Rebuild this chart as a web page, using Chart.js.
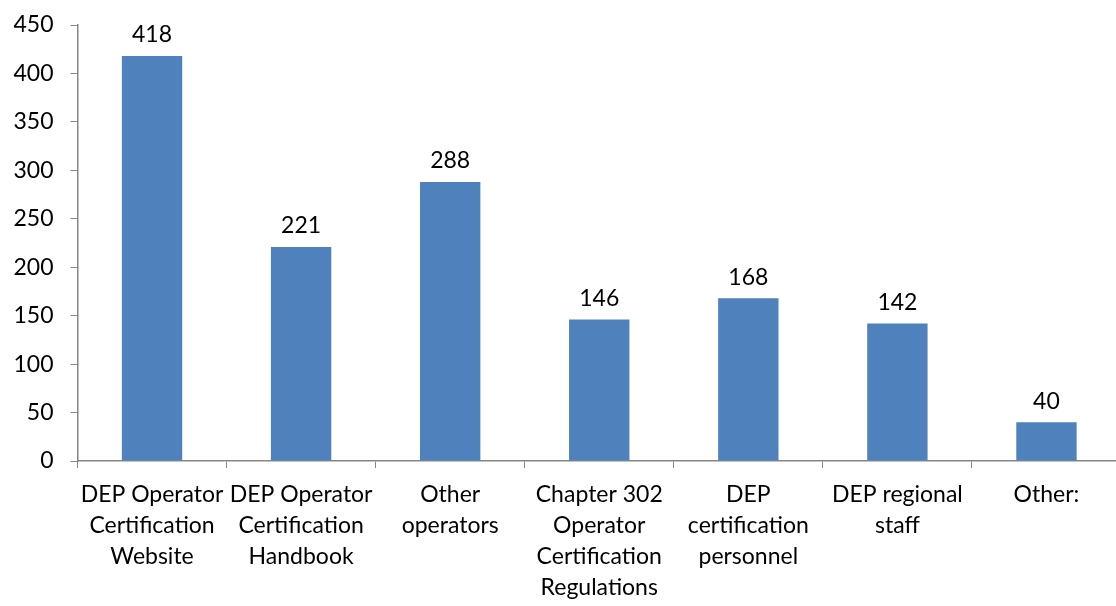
<!DOCTYPE html>
<html><head><meta charset="utf-8">
<script src="https://cdn.jsdelivr.net/npm/chart.js@4/dist/chart.umd.min.js"></script>
<style>html,body{margin:0;padding:0;background:#fff;overflow:hidden}#wrap{width:1121px;height:606px}</style>
</head><body><div id="wrap"><canvas id="c"></canvas></div>
<script>
const categories = [
  ["DEP Operator","Certification","Website"],
  ["DEP Operator","Certification","Handbook"],
  ["Other","operators"],
  ["Chapter 302","Operator","Certification","Regulations"],
  ["DEP","certification","personnel"],
  ["DEP regional","staff"],
  ["Other:"]
];
const values = [418, 221, 288, 146, 168, 142, 40];
const yTicks = [0, 50, 100, 150, 200, 250, 300, 350, 400, 450];

const FONT = "Lato, 'Open Sans', sans-serif";
const labelPlugin = {
  id: 'barLabels',
  afterDatasetsDraw(chart) {
    const ctx = chart.ctx;
    const meta = chart.getDatasetMeta(0);
    ctx.save();
    ctx.font = "23px " + FONT;
    ctx.fillStyle = "#000";
    ctx.textAlign = "center";
    ctx.textBaseline = "middle";
    meta.data.forEach((el, i) => {
      ctx.fillText(String(values[i]), el.x, el.y - 21);
    });
    ctx.restore();
  }
};

new Chart(document.getElementById('c'), {
  type: 'bar',
  data: {
    labels: categories,
    datasets: [{ data: values, backgroundColor: '#4F81BD', borderWidth: 0,
      barPercentage: 0.405, categoryPercentage: 1.0 }]
  },
  options: {
    responsive: true, maintainAspectRatio: false, animation: false,
    layout: { padding: { top: 25, right: 0, left: 0, bottom: 0 } },
    plugins: { legend: { display: false }, tooltip: { enabled: false } },
    scales: {
      x: {
        grid: { display: true, offset: true, drawOnChartArea: false, drawTicks: true, tickLength: 7, color: '#868686' },
        border: { color: '#868686', width: 1.5 },
        ticks: { color: '#000', font: { family: FONT, size: 23, lineHeight: 1.35 }, maxRotation: 0, autoSkip: false, padding: 11 },
        afterFit(s) { s.height = 145; s.paddingLeft = 0; s.paddingRight = 0; }
      },
      y: {
        min: 0, max: 450,
        afterBuildTicks(s) { s.ticks = yTicks.map(v => ({ value: v })); },
        grid: { display: true, drawOnChartArea: false, drawTicks: true, tickLength: 7, color: '#868686' },
        border: { color: '#868686', width: 1.5 },
        ticks: { color: '#000', font: { family: FONT, size: 23 }, padding: 17 },
        afterFit(s) { s.width = 77.5; s.paddingTop = 0; s.paddingBottom = 0; }
      }
    }
  },
  plugins: [labelPlugin]
});
</script></body></html>
